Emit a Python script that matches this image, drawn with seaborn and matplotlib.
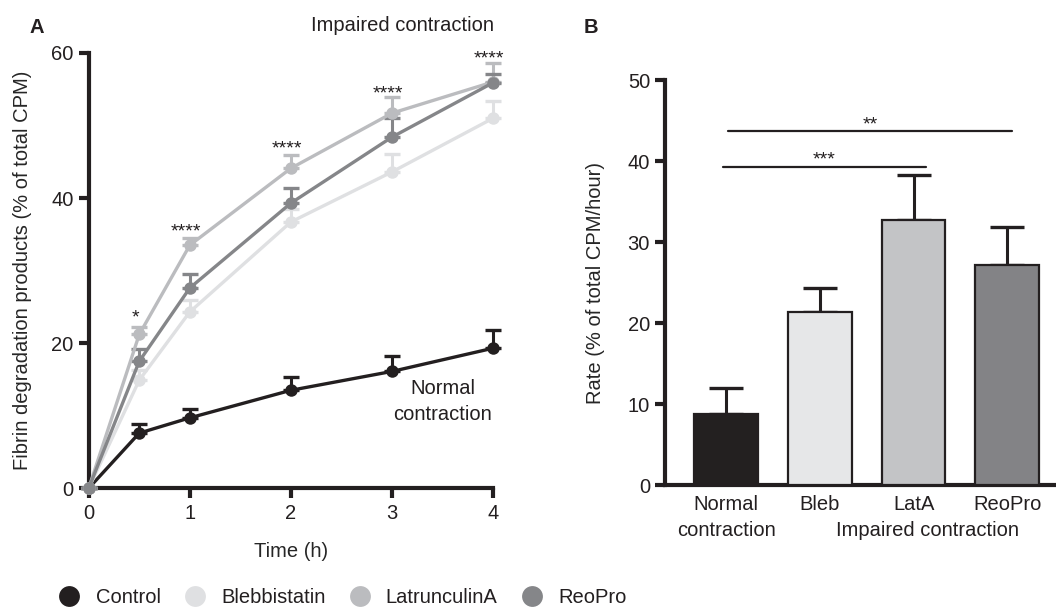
import numpy as np
import pandas as pd
import matplotlib
matplotlib.use("Agg")
import matplotlib.pyplot as plt
import seaborn as sns
from matplotlib.lines import Line2D

# Panel A data
time_h = [0, 0.5, 1, 2, 3, 4]
control = [0, 7.6, 9.7, 13.5, 16.1, 19.3]
control_err = [0, 1.2, 1.2, 1.8, 2.1, 2.5]
bleb = [0, 14.9, 24.3, 36.7, 43.6, 51.0]
bleb_err = [0, 1.4, 1.6, 1.8, 2.5, 2.4]
lata = [0, 21.2, 33.5, 44.1, 51.7, 56.0]
lata_err = [0, 1.0, 1.0, 1.8, 2.2, 2.6]
reopro = [0, 17.5, 27.6, 39.3, 48.4, 55.9]
reopro_err = [0, 1.7, 1.9, 2.1, 2.6, 1.2]
star_times = [0.5, 1, 2, 3, 4]
star_labels = ["*", "****", "****", "****", "****"]
star_y = [24.0, 35.9, 47.3, 54.9, 59.7]

# Panel B data
groups = ["Normal\ncontraction", "Bleb", "LatA", "ReoPro"]
rate = [8.8, 21.4, 32.7, 27.2]
rate_err = [3.2, 3.0, 5.6, 4.7]
sig_pairs = [(-0.03, 2.13, 39.3, "***"), (0.02, 3.05, 43.7, "**")]

series_names = ["Control", "Blebbistatin", "LatrunculinA", "ReoPro"]
line_colors = ["#231f20", "#dfe0e2", "#bbbcbf", "#858689"]
bar_colors = ["#231f20", "#e6e7e8", "#c3c4c6", "#838386"]

FS = 14.5

sns.set_theme(style="ticks")
plt.rcParams["font.family"] = ["Liberation Sans", "DejaVu Sans"]
plt.rcParams["axes.linewidth"] = 3.0
plt.rcParams["xtick.major.width"] = 3.0
plt.rcParams["ytick.major.width"] = 3.0
plt.rcParams["xtick.major.size"] = 7
plt.rcParams["ytick.major.size"] = 7
plt.rcParams["text.color"] = "#231f20"
plt.rcParams["axes.edgecolor"] = "#231f20"
plt.rcParams["xtick.color"] = "#231f20"
plt.rcParams["ytick.color"] = "#231f20"

fig = plt.figure(figsize=(10.56, 6.08), dpi=100)
axA = fig.add_axes([0.084, 0.197, 0.383, 0.716])
axB = fig.add_axes([0.630, 0.202, 0.370, 0.666])

# ---- Panel A ----
df = pd.DataFrame({
    "time": time_h * 4,
    "value": control + bleb + lata + reopro,
    "err": control_err + bleb_err + lata_err + reopro_err,
    "group": sum([[n] * len(time_h) for n in series_names], []),
})
draw_order = ["Blebbistatin", "ReoPro", "LatrunculinA", "Control"]
for name in draw_order:
    i = series_names.index(name)
    sub = df[df["group"] == name]
    axA.errorbar(sub["time"], sub["value"], yerr=[np.zeros(len(sub)), sub["err"]],
                 fmt="none", ecolor=line_colors[i], elinewidth=2.2, capsize=5.5,
                 capthick=2.4, clip_on=False, zorder=2 + i)
    sns.lineplot(data=sub, x="time", y="value", ax=axA, color=line_colors[i],
                 marker="o", markersize=9, markeredgewidth=0, linewidth=2.4,
                 clip_on=False, zorder=3 + i, legend=False)

for t, lab, y in zip(star_times, star_labels, star_y):
    axA.text(t - 0.04, y - 0.6, lab, ha="center", va="center", fontsize=14)

axA.set_xlim(0, 4)
axA.set_ylim(0, 60)
axA.set_xticks([0, 1, 2, 3, 4])
axA.set_yticks([0, 20, 40, 60])
axA.tick_params(labelsize=FS, pad=4)
axA.set_xlabel("Time (h)", fontsize=FS, labelpad=14)
axA.set_ylabel("Fibrin degradation products (% of total CPM)", fontsize=FS, labelpad=14)
sns.despine(ax=axA)
axA.text(3.5, 12.0, "Normal\ncontraction", ha="center", va="center", fontsize=FS,
         linespacing=1.45)
fig.text(0.381, 0.958, "Impaired contraction", ha="center", va="center", fontsize=FS)
fig.text(0.028, 0.955, "A", fontsize=FS, fontweight="bold", va="center")
fig.text(0.553, 0.955, "B", fontsize=FS, fontweight="bold", va="center")

# ---- Panel B ----
dfb = pd.DataFrame({"group": groups, "rate": rate})
sns.barplot(data=dfb, x="group", y="rate", hue="group", palette=bar_colors,
            ax=axB, width=0.68, edgecolor="#231f20", linewidth=1.6, legend=False,
            zorder=3)
axB.errorbar(range(len(groups)), rate, yerr=[np.zeros(len(rate)), rate_err],
             fmt="none", ecolor="#231f20", elinewidth=2.2, capsize=12,
             capthick=2.4, zorder=2)
for a, b, y, lab in sig_pairs:
    axB.plot([a, b], [y, y], color="#231f20", linewidth=1.6)
    axB.text((a + b) / 2, y + 0.8, lab, ha="center", va="center", fontsize=14)

axB.set_xlim(-0.65, 3.52)
axB.set_ylim(0, 50)
axB.set_yticks([0, 10, 20, 30, 40, 50])
axB.tick_params(axis="y", labelsize=FS, pad=4)
axB.tick_params(axis="x", length=0, labelsize=FS, pad=7)
for lbl in axB.get_xticklabels():
    lbl.set_linespacing(1.45)
axB.set_xlabel("")
axB.set_ylabel("Rate (% of total CPM/hour)", fontsize=FS, labelpad=16)
sns.despine(ax=axB)
fig.text(0.878, 0.128, "Impaired contraction", ha="center", va="center", fontsize=FS)

# ---- Legend ----
handles = [Line2D([], [], linestyle="none", marker="o", markersize=15,
                  markerfacecolor=c, markeredgewidth=0) for c in line_colors]
fig.legend(handles, series_names, loc="center left", bbox_to_anchor=(0.039, 0.018),
           ncol=4, frameon=False, fontsize=FS, handletextpad=0.8,
           columnspacing=1.2, handlelength=1.0)

fig.savefig("out.png", dpi=100)
